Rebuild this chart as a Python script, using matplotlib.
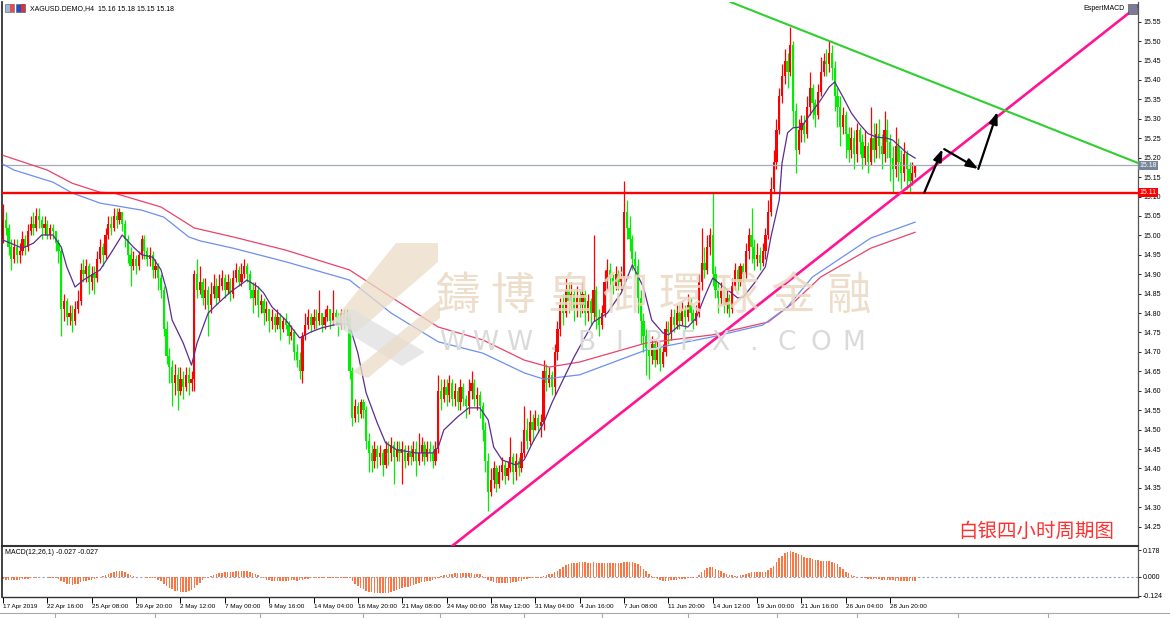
import numpy as np
import matplotlib
matplotlib.use("Agg")
import matplotlib.pyplot as plt
from matplotlib.patches import Polygon, Rectangle
from matplotlib.lines import Line2D
import matplotlib.transforms as mtransforms

# ---------------- data ----------------
first_open = 14.99
closes = [
    15.04, 15.02, 14.97, 14.94, 14.97, 14.95, 14.96, 14.99, 14.97, 15.01, 15.03, 15.02, 15.05, 15.04, 15.02, 15.03,
    15.00, 15.02, 15.01, 14.98, 14.96, 14.81, 14.83, 14.79, 14.80, 14.78, 14.81, 14.83, 14.91, 14.90, 14.92, 14.88,
    14.90, 14.89, 14.94, 14.97, 14.95, 15.00, 15.03, 15.02, 15.05, 15.04, 15.06, 15.03, 14.99, 14.95, 14.92, 14.94,
    14.92, 14.95, 14.99, 14.96, 14.94, 14.95, 14.91, 14.92, 14.89, 14.86, 14.76, 14.69, 14.66, 14.62, 14.64, 14.60,
    14.63, 14.61, 14.64, 14.62, 14.63, 14.90, 14.86, 14.88, 14.84, 14.86, 14.82, 14.85, 14.87, 14.84, 14.87, 14.89,
    14.86, 14.88, 14.85, 14.89, 14.91, 14.88, 14.90, 14.92, 14.90, 14.86, 14.84, 14.86, 14.82, 14.83, 14.80, 14.81,
    14.78, 14.79, 14.77, 14.79, 14.76, 14.78, 14.77, 14.74, 14.75, 14.70, 14.68, 14.65, 14.74, 14.77, 14.79, 14.77,
    14.79, 14.78, 14.80, 14.77, 14.79, 14.81, 14.78, 14.80, 14.79, 14.77, 14.80, 14.78, 14.79, 14.65, 14.53, 14.56,
    14.54, 14.57, 14.55, 14.47, 14.44, 14.42, 14.45, 14.43, 14.44, 14.41, 14.45, 14.44, 14.46, 14.43, 14.45, 14.44,
    14.45, 14.42, 14.44, 14.43, 14.45, 14.42, 14.44, 14.46, 14.43, 14.45, 14.44, 14.42, 14.45, 14.60, 14.58, 14.61,
    14.59, 14.62, 14.58, 14.60, 14.57, 14.61, 14.58, 14.56, 14.60, 14.62, 14.58, 14.59, 14.56, 14.50, 14.42, 14.34,
    14.37, 14.40, 14.36, 14.39, 14.41, 14.38, 14.40, 14.43, 14.39, 14.42, 14.40, 14.44, 14.50, 14.47, 14.52, 14.50,
    14.53, 14.51, 14.52, 14.65, 14.62, 14.64, 14.61, 14.70, 14.76, 14.82, 14.80, 14.86, 14.83, 14.85, 14.81, 14.84,
    14.82, 14.85, 14.80, 14.83, 14.80, 14.86, 14.79, 14.77, 14.80, 14.88, 14.91, 14.89, 14.87, 14.90, 14.88, 14.89,
    15.06, 15.02, 14.99, 14.94, 14.92, 14.84, 14.78, 14.74, 14.71, 14.69, 14.72, 14.68, 14.71, 14.67, 14.70, 14.76,
    14.75, 14.79, 14.77, 14.80, 14.78, 14.81, 14.79, 14.82, 14.80, 14.78, 14.80, 14.88, 14.93, 14.91, 14.97, 15.00,
    14.90, 14.86, 14.84, 14.86, 14.82, 14.84, 14.81, 14.87, 14.91, 14.88, 14.92, 14.90, 14.96, 15.00, 14.97, 14.94,
    14.95, 14.93, 14.96, 15.00, 15.06, 15.12, 15.19, 15.27, 15.36, 15.41, 15.45, 15.42, 15.49, 15.32, 15.22, 15.27,
    15.29, 15.26, 15.33, 15.38, 15.34, 15.31, 15.37, 15.42, 15.45, 15.44, 15.47, 15.43, 15.36, 15.33, 15.28, 15.31,
    15.26, 15.22, 15.25, 15.21, 15.27, 15.24, 15.20, 15.23, 15.19, 15.25, 15.22, 15.26, 15.23, 15.21, 15.27, 15.24,
    15.20, 15.17, 15.23, 15.19, 15.16, 15.21, 15.17, 15.14, 15.16, 15.18,
]
highs = [
    15.08, 15.06, 15.03, 14.99, 14.99, 14.99, 14.98, 15.01, 15.00, 15.03, 15.05, 15.06, 15.07, 15.07, 15.05, 15.05,
    15.04, 15.03, 15.03, 15.01, 14.99, 14.97, 14.85, 14.84, 14.82, 14.82, 14.83, 14.86, 14.93, 14.94, 14.94, 14.93,
    14.92, 14.92, 14.96, 14.99, 14.98, 15.02, 15.05, 15.05, 15.07, 15.07, 15.07, 15.06, 15.04, 15.00, 14.97, 14.96,
    14.95, 14.96, 15.00, 15.00, 14.97, 14.97, 14.96, 14.94, 14.93, 14.90, 14.87, 14.78, 14.71, 14.68, 14.67, 14.66,
    14.66, 14.65, 14.66, 14.66, 14.65, 14.91, 14.94, 14.92, 14.89, 14.89, 14.87, 14.88, 14.90, 14.89, 14.90, 14.91,
    14.90, 14.90, 14.89, 14.91, 14.93, 14.92, 14.93, 14.94, 14.93, 14.91, 14.88, 14.88, 14.87, 14.85, 14.84, 14.83,
    14.81, 14.81, 14.80, 14.81, 14.80, 14.79, 14.80, 14.78, 14.77, 14.76, 14.72, 14.70, 14.75, 14.80, 14.81, 14.80,
    14.81, 14.81, 14.86, 14.80, 14.81, 14.82, 14.81, 14.86, 14.81, 14.80, 14.81, 14.81, 14.81, 14.80, 14.66, 14.58,
    14.57, 14.58, 14.58, 14.56, 14.49, 14.46, 14.47, 14.46, 14.46, 14.45, 14.47, 14.47, 14.48, 14.47, 14.47, 14.47,
    14.47, 14.46, 14.46, 14.46, 14.47, 14.47, 14.49, 14.48, 14.47, 14.47, 14.47, 14.46, 14.47, 14.64, 14.63, 14.63,
    14.63, 14.64, 14.63, 14.62, 14.61, 14.63, 14.62, 14.59, 14.63, 14.65, 14.63, 14.61, 14.60, 14.57, 14.52, 14.44,
    14.40, 14.42, 14.41, 14.41, 14.43, 14.42, 14.42, 14.48, 14.44, 14.44, 14.43, 14.47, 14.56, 14.53, 14.55, 14.54,
    14.55, 14.54, 14.54, 14.68, 14.67, 14.66, 14.65, 14.72, 14.78, 14.84, 14.85, 14.89, 14.88, 14.88, 14.86, 14.87,
    14.86, 14.88, 14.86, 14.85, 14.84, 15.00, 14.87, 14.81, 14.82, 14.91, 14.94, 14.93, 14.90, 14.92, 14.91, 14.92,
    15.14, 15.09, 15.05, 15.00, 14.96, 14.94, 14.86, 14.80, 14.76, 14.74, 14.74, 14.73, 14.73, 14.72, 14.72, 14.78,
    14.78, 14.81, 14.81, 14.82, 14.82, 14.83, 14.82, 14.85, 14.84, 14.81, 14.82, 14.90, 15.02, 14.97, 15.00, 15.02,
    15.11, 14.92, 14.88, 14.88, 14.87, 14.86, 14.85, 14.89, 14.93, 14.92, 14.93, 14.93, 14.98, 15.02, 15.07, 14.99,
    14.98, 14.97, 14.98, 15.02, 15.09, 15.15, 15.22, 15.30, 15.38, 15.44, 15.48, 15.47, 15.536, 15.50, 15.34, 15.30,
    15.31, 15.31, 15.36, 15.42, 15.39, 15.35, 15.39, 15.46, 15.47, 15.48, 15.50, 15.49, 15.45, 15.38, 15.36, 15.33,
    15.32, 15.28, 15.28, 15.27, 15.29, 15.28, 15.26, 15.27, 15.24, 15.33, 15.29, 15.29, 15.30, 15.26, 15.32, 15.30,
    15.26, 15.23, 15.28, 15.25, 15.22, 15.24, 15.22, 15.19, 15.19, 15.18,
]
lows = [
    14.98, 15.00, 14.95, 14.91, 14.93, 14.93, 14.93, 14.95, 14.95, 14.96, 15.00, 15.00, 15.01, 15.02, 14.99, 15.00,
    14.99, 14.99, 14.99, 14.96, 14.93, 14.74, 14.78, 14.77, 14.77, 14.75, 14.77, 14.80, 14.82, 14.88, 14.88, 14.85,
    14.86, 14.85, 14.88, 14.93, 14.92, 14.94, 14.99, 15.00, 15.01, 15.02, 15.03, 15.01, 14.97, 14.93, 14.87, 14.91,
    14.90, 14.91, 14.94, 14.94, 14.92, 14.92, 14.89, 14.89, 14.86, 14.84, 14.74, 14.67, 14.62, 14.56, 14.59, 14.55,
    14.59, 14.58, 14.60, 14.59, 14.60, 14.60, 14.84, 14.85, 14.82, 14.81, 14.74, 14.80, 14.84, 14.82, 14.83, 14.86,
    14.84, 14.85, 14.83, 14.84, 14.88, 14.87, 14.87, 14.89, 14.88, 14.84, 14.80, 14.82, 14.79, 14.80, 14.77, 14.78,
    14.75, 14.76, 14.75, 14.76, 14.73, 14.75, 14.76, 14.72, 14.73, 14.68, 14.66, 14.63, 14.62, 14.73, 14.76, 14.75,
    14.76, 14.76, 14.77, 14.75, 14.76, 14.78, 14.76, 14.77, 14.77, 14.74, 14.76, 14.76, 14.77, 14.63, 14.51, 14.52,
    14.52, 14.53, 14.53, 14.45, 14.39, 14.39, 14.40, 14.40, 14.41, 14.38, 14.40, 14.41, 14.42, 14.36, 14.42, 14.42,
    14.36, 14.40, 14.41, 14.41, 14.42, 14.38, 14.41, 14.42, 14.41, 14.42, 14.42, 14.40, 14.41, 14.44, 14.55, 14.57,
    14.56, 14.57, 14.56, 14.56, 14.55, 14.55, 14.56, 14.53, 14.54, 14.58, 14.56, 14.55, 14.53, 14.47, 14.39, 14.29,
    14.33, 14.35, 14.34, 14.35, 14.37, 14.36, 14.37, 14.39, 14.36, 14.37, 14.38, 14.39, 14.43, 14.45, 14.46, 14.47,
    14.50, 14.49, 14.48, 14.50, 14.60, 14.61, 14.59, 14.59, 14.68, 14.74, 14.77, 14.79, 14.80, 14.81, 14.78, 14.79,
    14.79, 14.80, 14.77, 14.78, 14.77, 14.78, 14.76, 14.74, 14.76, 14.79, 14.86, 14.86, 14.85, 14.86, 14.86, 14.86,
    14.88, 14.99, 14.96, 14.91, 14.89, 14.80, 14.72, 14.70, 14.64, 14.63, 14.67, 14.66, 14.67, 14.65, 14.66, 14.69,
    14.72, 14.73, 14.75, 14.76, 14.76, 14.77, 14.76, 14.78, 14.78, 14.76, 14.77, 14.79, 14.86, 14.89, 14.90, 14.95,
    14.87, 14.84, 14.80, 14.82, 14.80, 14.80, 14.79, 14.80, 14.86, 14.86, 14.87, 14.88, 14.89, 14.94, 14.93, 14.91,
    14.92, 14.91, 14.92, 14.94, 14.99, 15.05, 15.11, 15.17, 15.26, 15.34, 15.39, 15.38, 15.41, 15.28, 15.16, 15.21,
    15.24, 15.24, 15.25, 15.31, 15.30, 15.28, 15.30, 15.36, 15.41, 15.41, 15.42, 15.40, 15.32, 15.28, 15.23, 15.26,
    15.20, 15.19, 15.20, 15.17, 15.19, 15.21, 15.17, 15.18, 15.16, 15.18, 15.19, 15.20, 15.20, 15.17, 15.19, 15.20,
    15.14, 15.11, 15.15, 15.14, 15.12, 15.14, 15.12, 15.11, 15.13, 15.15,
]
macd = [
    -0.015, -0.018, -0.020, -0.022, -0.022, -0.020, -0.018, -0.016, -0.014, -0.012, -0.010, -0.007, -0.004, -0.002, -0.001, -0.002,
    -0.003, -0.004, -0.006, -0.008, -0.012, -0.025, -0.035, -0.045, -0.050, -0.052, -0.050, -0.045, -0.035, -0.028, -0.024, -0.022,
    -0.020, -0.016, -0.010, -0.002, 0.005, 0.012, 0.020, 0.028, 0.034, 0.037, 0.038, 0.036, 0.030, 0.022, 0.012, 0.005,
    0.002, 0.000, -0.002, -0.003, -0.004, -0.004, -0.006, -0.010, -0.018, -0.030, -0.045, -0.060, -0.072, -0.082, -0.090, -0.095,
    -0.097, -0.098, -0.097, -0.094, -0.088, -0.075, -0.055, -0.038, -0.022, -0.010, 0.000, 0.008, 0.015, 0.020, 0.024, 0.028,
    0.030, 0.032, 0.034, 0.035, 0.036, 0.037, 0.038, 0.038, 0.037, 0.034, 0.028, 0.020, 0.010, 0.000, -0.010, -0.018,
    -0.022, -0.025, -0.026, -0.027, -0.026, -0.025, -0.024, -0.024, -0.022, -0.022, -0.024, -0.022, -0.018, -0.014, -0.012, -0.010,
    -0.010, -0.009, -0.008, -0.008, -0.009, -0.008, -0.007, -0.006, -0.006, -0.007, -0.006, -0.005, -0.004, -0.008, -0.025, -0.045,
    -0.060, -0.072, -0.082, -0.090, -0.097, -0.102, -0.105, -0.107, -0.108, -0.108, -0.107, -0.105, -0.100, -0.094, -0.088, -0.082,
    -0.076, -0.070, -0.064, -0.058, -0.052, -0.047, -0.042, -0.037, -0.032, -0.028, -0.024, -0.020, -0.016, -0.006, 0.004, 0.010,
    0.015, 0.019, 0.022, 0.024, 0.026, 0.027, 0.027, 0.026, 0.025, 0.024, 0.022, 0.020, 0.016, 0.008, -0.006, -0.020,
    -0.030, -0.036, -0.040, -0.042, -0.042, -0.041, -0.040, -0.038, -0.036, -0.033, -0.030, -0.024, -0.016, -0.012, -0.010, -0.008,
    -0.008, -0.006, -0.004, 0.006, 0.012, 0.016, 0.020, 0.030, 0.042, 0.055, 0.066, 0.076, 0.084, 0.090, 0.093, 0.095,
    0.096, 0.097, 0.096, 0.095, 0.094, 0.096, 0.094, 0.092, 0.090, 0.092, 0.094, 0.095, 0.094, 0.093, 0.092, 0.092,
    0.098, 0.100, 0.100, 0.098, 0.094, 0.085, 0.072, 0.055, 0.038, 0.022, 0.008, -0.005, -0.015, -0.022, -0.025, -0.025,
    -0.024, -0.022, -0.020, -0.018, -0.016, -0.014, -0.012, -0.010, -0.007, -0.004, -0.002, 0.010, 0.030, 0.045, 0.058, 0.066,
    0.064, 0.055, 0.045, 0.036, 0.028, 0.020, 0.014, 0.010, 0.008, 0.008, 0.010, 0.013, 0.018, 0.024, 0.030, 0.032,
    0.032, 0.030, 0.032, 0.035, 0.045, 0.058, 0.075, 0.100, 0.125, 0.140, 0.155, 0.165, 0.170, 0.168, 0.160, 0.150,
    0.142, 0.133, 0.127, 0.122, 0.118, 0.114, 0.110, 0.108, 0.108, 0.108, 0.107, 0.102, 0.095, 0.086, 0.068, 0.052,
    0.035, 0.025, 0.014, 0.006, 0.001, -0.003, -0.006, -0.009, -0.011, -0.013, -0.014, -0.015, -0.016, -0.018, -0.019, -0.019,
    -0.020, -0.022, -0.024, -0.025, -0.024, -0.025, -0.026, -0.027, -0.027, -0.027,
]
# moving averages, sampled vertices (bar index, price)
ma_fast_idx = [0, 7, 11, 14, 18, 21, 23, 26, 29, 32, 35, 39, 43, 47, 50, 54, 57, 59, 61, 65, 68, 70, 74, 77, 82,
               88, 92, 94, 97, 102, 107, 111, 115, 122, 125, 128, 131, 135, 138, 142, 149, 155, 157, 159, 164,
               168, 172, 175, 177, 180, 185, 188, 191, 195, 198, 202, 206, 208, 213, 218, 223, 227, 231, 234, 238,
               240, 244, 247, 250, 253, 256, 260, 265, 267, 271, 275, 277, 280, 281, 283, 285, 288, 291, 295, 298,
               300, 303, 306, 309, 312, 315, 319, 321, 324, 326, 329]
ma_fast_val = [14.988, 14.967, 14.980, 15.001, 15.001, 14.970, 14.919, 14.867, 14.885, 14.898, 14.911, 14.955,
               15.001, 14.970, 14.950, 14.944, 14.911, 14.859, 14.782, 14.723, 14.666, 14.723, 14.800, 14.821,
               14.854, 14.885, 14.867, 14.852, 14.816, 14.782, 14.736, 14.751, 14.762, 14.774, 14.769, 14.697,
               14.594, 14.517, 14.466, 14.448, 14.440, 14.440, 14.455, 14.499, 14.533, 14.556, 14.556, 14.525,
               14.455, 14.422, 14.409, 14.422, 14.466, 14.517, 14.569, 14.628, 14.687, 14.713, 14.777, 14.800,
               14.852, 14.924, 14.867, 14.782, 14.749, 14.744, 14.769, 14.764, 14.787, 14.841, 14.890, 14.867,
               14.839, 14.841, 14.877, 14.919, 14.996, 15.091, 15.186, 15.264, 15.277, 15.279, 15.310, 15.349,
               15.382, 15.395, 15.356, 15.315, 15.286, 15.262, 15.253, 15.250, 15.245, 15.225, 15.212, 15.199]
ma_blue_idx = [0, 4, 18, 25, 35, 50, 58, 67, 71, 83, 102, 125, 140, 157, 173, 188, 195, 208, 232, 256, 274, 283, 292, 313, 329]
ma_blue_val = [15.183, 15.168, 15.137, 15.109, 15.083, 15.065, 15.047, 14.996, 14.986, 14.967, 14.932, 14.885,
               14.800, 14.726, 14.697, 14.646, 14.630, 14.641, 14.705, 14.739, 14.769, 14.816, 14.893, 14.993, 15.034]
ma_red_idx = [0, 16, 25, 35, 40, 57, 69, 83, 102, 125, 140, 157, 173, 188, 197, 208, 232, 256, 276, 285, 295, 313, 329]
ma_red_val = [15.206, 15.168, 15.134, 15.111, 15.109, 15.073, 15.019, 14.996, 14.962, 14.911, 14.841, 14.764,
              14.731, 14.679, 14.661, 14.674, 14.723, 14.744, 14.777, 14.826, 14.893, 14.967, 15.008]

price_ticks = [round(14.25 + 0.05 * k, 2) for k in range(27)]
macd_ticks = [0.178, 0.0, -0.124]
macd_tick_labels = ["0.178", "0.000", "-0.124"]
date_labels = ['17 Apr 2019', '22 Apr 16:00', '25 Apr 08:00', '29 Apr 20:00', '2 May 12:00', '7 May 00:00',
               '9 May 16:00', '14 May 04:00', '16 May 20:00', '21 May 08:00', '24 May 00:00', '28 May 12:00',
               '31 May 04:00', '4 Jun 16:00', '7 Jun 08:00', '11 Jun 20:00', '14 Jun 12:00', '19 Jun 00:00',
               '21 Jun 16:00', '26 Jun 04:00', '28 Jun 20:00']
bars_per_label = 16
support_level = 15.11
last_price = 15.18
# drawn objects (bar index, price)
trend_up = [(162.0, 14.2004), (406.6, 15.575)]
trend_down = [(262.3, 15.601), (409.5, 15.186)]
arrows = [((332.3, 15.110), (338.9, 15.222)),
          ((339.5, 15.222), (351.8, 15.171)),
          ((351.8, 15.171), (358.7, 15.318))]

# ---------------- figure ----------------
W, H = 1170, 618
fig = plt.figure(figsize=(W / 100, H / 100), dpi=100)
fig.patch.set_facecolor('white')
AXFONT = 'Liberation Sans'
FS = 5.0


def fx(px):
    return px / W


def fy(py):
    return 1 - py / H


def P(x, y):
    return (fx(x), fy(y))


ax = fig.add_axes([fx(2), fy(546), fx(1138) - fx(2), fy(2) - fy(546)])
axm = fig.add_axes([fx(2), fy(597), fx(1138) - fx(2), fy(547) - fy(597)], sharex=ax)

n = len(closes)
idx = np.arange(n)
c = np.array(closes)
o = np.r_[first_open, c[:-1]]
hi = np.maximum(np.array(highs), np.maximum(o, c))
lo = np.minimum(np.array(lows), np.minimum(o, c))
up = c >= o
cols = np.where(up, '#ff0000', '#00ee00')

# watermark (behind)
logo_tan = '#ecdcc6'
logo_grey = '#e0e0e0'
for pts, colr in [
    ([(396, 243), (438, 243), (438, 262), (356, 333), (334, 320)], logo_tan),
    ([(330, 322), (352, 309), (425, 352), (402, 366)], logo_grey),
    ([(352, 372), (440, 300), (440, 318), (368, 378)], logo_tan),
]:
    fig.patches.append(Polygon([P(*p) for p in pts], closed=True, transform=fig.transFigure,
                               facecolor=colr, edgecolor='none', alpha=0.75, zorder=0))

wm_chars = '鑄博皇御環球金融'
for k, ch in enumerate(wm_chars):
    fig.text(fx(457 + k * 56), fy(296), ch, fontsize=32, family=['Noto Sans CJK TC'],
             color='#ead9c2', ha='center', va='center', zorder=0.5, alpha=0.85)
for k, ch in enumerate('WWW.BIBFX.COM'):
    fig.text(fx(452 + k * 33.5), fy(343), ch, fontsize=19, family=['DejaVu Sans'],
             color='#dadada', ha='center', va='center', zorder=0.5)

ax.set_facecolor('none')
axm.set_facecolor('none')

# candles
ax.vlines(idx, lo, hi, colors=cols, linewidth=0.9, zorder=2)
body_h = np.maximum(np.abs(c - o), 0.003)
ax.bar(idx, body_h, bottom=np.minimum(o, c), width=0.8, color=cols, linewidth=0, zorder=2)

# moving averages
ax.plot(ma_red_idx, ma_red_val, color='#e8436a', lw=0.9, zorder=3)
ax.plot(ma_blue_idx, ma_blue_val, color='#6d8ff0', lw=0.9, zorder=3)
ax.plot(ma_fast_idx, ma_fast_val, color='#5a2d91', lw=0.9, zorder=4)

# horizontal lines
ax.axhline(last_price, color='#a3abb4', lw=0.9, zorder=2.5)
ax.axhline(support_level, color='#ff0000', lw=1.7, zorder=3)

# trend lines
ax.axline(trend_up[0], trend_up[1], color='#ff1493', lw=1.9, zorder=5)
ax.axline(trend_down[0], trend_down[1], color='#2fcf2f', lw=1.5, zorder=5)

for (s, e) in arrows:
    ax.annotate('', xy=e, xytext=s,
                arrowprops=dict(arrowstyle='-|>,head_length=0.7,head_width=0.25', color='black',
                                lw=1.6, shrinkA=0, shrinkB=0), zorder=6)

ax.set_xlim(-0.36, 409.4)
ax.set_ylim(14.2004, 15.6007)

# right price axis
ax.yaxis.tick_right()
ax.set_yticks(price_ticks)
ax.set_yticklabels([f'{v:.2f}' for v in price_ticks])
ax.tick_params(axis='y', direction='out', length=2.5, width=0.6, pad=1.2, labelsize=FS, colors='black')
ax.tick_params(axis='x', bottom=False, labelbottom=False)
for lab in ax.get_yticklabels():
    lab.set_family(AXFONT)

tr = mtransforms.blended_transform_factory(ax.transAxes, ax.transData)
ax.text(1.0015, last_price, f'{last_price:.2f}', transform=tr, fontsize=FS, family=AXFONT, color='white',
        va='center', ha='left', zorder=10,
        bbox=dict(boxstyle='square,pad=0.18', fc='#75869a', ec='none'))
ax.text(1.0015, support_level, f'{support_level:.2f}', transform=tr, fontsize=FS, family=AXFONT, color='white',
        va='center', ha='left', zorder=10,
        bbox=dict(boxstyle='square,pad=0.18', fc='#ff0000', ec='none'))

ax.spines['top'].set_visible(False)
ax.spines['left'].set_linewidth(1.2)
ax.spines['left'].set_color('#222222')
ax.spines['right'].set_color('#555555')
ax.spines['right'].set_linewidth(0.9)
ax.spines['bottom'].set_linewidth(1.5)
ax.spines['bottom'].set_color('#333333')

# MACD panel
axm.bar(idx, macd, width=0.55, color='#ff7443', linewidth=0, zorder=2)
axm.axhline(0, color='#93a3b8', lw=0.8, ls=(0, (2, 2)), zorder=1)
axm.set_ylim(-0.133, 0.198)
axm.yaxis.tick_right()
axm.set_yticks(macd_ticks)
axm.set_yticklabels(macd_tick_labels)
axm.tick_params(axis='y', direction='out', length=2.5, width=0.6, pad=1.2, labelsize=FS)
label_idx = [k * bars_per_label for k in range(len(date_labels))]
axm.set_xticks(label_idx)
axm.set_xticklabels(date_labels)
axm.tick_params(axis='x', direction='out', length=4, width=0.7, pad=1.0, labelsize=4.6)
for lab in axm.get_xticklabels():
    lab.set_ha('left')
    lab.set_family(AXFONT)
for lab in axm.get_yticklabels():
    lab.set_family(AXFONT)
axm.spines['top'].set_visible(False)
axm.spines['left'].set_linewidth(1.2)
axm.spines['left'].set_color('#222222')
axm.spines['right'].set_color('#555555')
axm.spines['right'].set_linewidth(0.9)
axm.spines['bottom'].set_color('#333333')
axm.spines['bottom'].set_linewidth(1.0)

# texts
fig.text(fx(30), fy(8.5), 'XAGUSD.DEMO,H4  15.16 15.18 15.15 15.18', fontsize=FS, family=AXFONT,
         va='center', ha='left')
fig.text(fx(1125), fy(9), 'EspertMACD', fontsize=FS, family=AXFONT, va='center', ha='right')
fig.text(fx(5), fy(553), 'MACD(12,26,1) -0.027 -0.027', fontsize=FS, family=AXFONT, va='center', ha='left')
fig.text(fx(1036), fy(531), '白银四小时周期图', fontsize=14, family=['Noto Sans CJK SC'], color='#ff3030',
         va='center', ha='center')

# small header icons
for (x0, fc1, fc2) in [(5, '#9fb8e0', '#e05050'), (16, '#2050d0', '#e03030')]:
    fig.patches.append(Rectangle(P(x0, 12), 9 / W, 8 / H, transform=fig.transFigure, fc=fc1, ec='#555555', lw=0.4))
    fig.patches.append(Rectangle(P(x0 + 5, 12), 4 / W, 8 / H, transform=fig.transFigure, fc=fc2, ec='none'))
fig.patches.append(Rectangle(P(1128, 14), 9 / W, 10 / H, transform=fig.transFigure, fc='#7a7a9a', ec='#444444', lw=0.4))

# bottom tab strip
fig.add_artist(Line2D([0, 1], [fy(613), fy(613)], transform=fig.transFigure, color='#a8a8a8', lw=0.8))
for xs in [55, 155, 260, 363, 440, 524, 602, 688, 777, 857, 958, 1048]:
    fig.add_artist(Line2D([fx(xs), fx(xs)], [fy(613), fy(618)], transform=fig.transFigure, color='#a8a8a8', lw=0.8))

fig.savefig('out.png', dpi=100, facecolor='white')
